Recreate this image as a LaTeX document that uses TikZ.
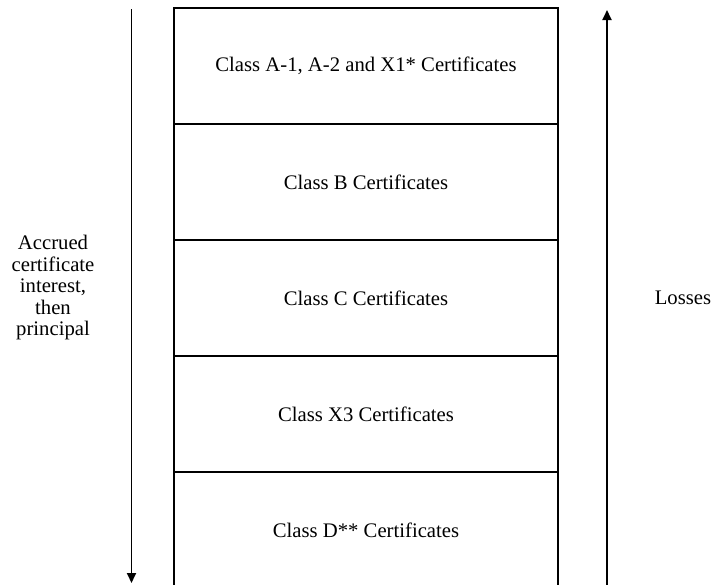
\documentclass[tikz,border=0pt]{standalone}
\usepackage{fontspec}
\setmainfont{Liberation Serif}
\usetikzlibrary{arrows.meta}

\begin{document}
\begin{tikzpicture}[x=1pt,y=-1pt,line width=1.8pt]
    %
    % `tranche' is used for the boxes of the stack.
    % `side' is used for the texts beside the arrows.
    % `flow' is used for the two long arrows.
    \tikzstyle{tranche} = [draw,minimum width=384pt,minimum height=116pt,inner sep=0pt,font=\fontsize{20.7}{23}\selectfont]
    \tikzstyle{side} = [align=center,font=\fontsize{20.7}{21.5}\selectfont]
    \tikzstyle{flow} = [-{Triangle[length=10pt,width=9pt]}]
    \useasboundingbox (0,0) rectangle (717,584);
    %
    % Stack
    \node[tranche] (clsa) at (366,66) {Class A-1, A-2 and X1* Certificates};
    \node[tranche] (clsb) at (366,182) {Class B Certificates};
    \node[tranche] (clsc) at (366,298) {Class C Certificates};
    \node[tranche] (clsx) at (366,414) {Class X3 Certificates};
    \node[tranche] (clsd) at (366,530) {Class D** Certificates};
    %
    % Payments, top down
    \coordinate (paytop) at (131.5,9);
    \coordinate (paybot) at (131.5,583);
    \draw[flow] (paytop) -- (paybot);
    \node[side] (paid) at (53,288) {Accrued\\certificate\\interest,\\then\\principal};
    %
    % Losses, bottom up
    \coordinate (lossbot) at (607,586);
    \coordinate (losstop) at (607,10);
    \draw[flow] (lossbot) -- (losstop);
    \node[side] (loss) at (683,298) {Losses};
    %
\end{tikzpicture}
\end{document}
